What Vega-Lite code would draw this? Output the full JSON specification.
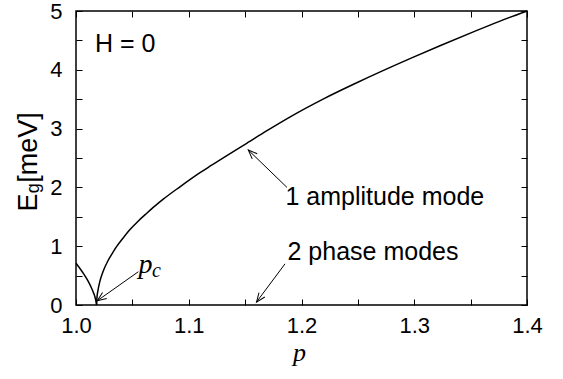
{
  "$schema": "https://vega.github.io/schema/vega-lite/v6.json",
  "width": 451,
  "height": 294,
  "autosize": {"type": "none"},
  "padding": {"left": 76, "top": 11, "right": 36, "bottom": 74},
  "background": "white",
  "config": {
    "view": {"stroke": "black", "strokeWidth": 1.5},
    "axis": {"grid": false, "domain": false, "title": null, "tickColor": "black", "tickWidth": 1, "labelColor": "black", "labelFont": "Liberation Sans", "labelFontSize": 22, "labelOverlap": false, "labelFlush": false, "labelBound": false}
  },
  "resolve": {"axis": {"x": "independent", "y": "independent"}},
  "layer": [
    {
      "data": {"values": [
        {"branch": "left", "p": 1.0, "E": 0.71},
        {"branch": "left", "p": 1.0035, "E": 0.62},
        {"branch": "left", "p": 1.0071, "E": 0.52},
        {"branch": "left", "p": 1.010, "E": 0.43},
        {"branch": "left", "p": 1.013, "E": 0.32},
        {"branch": "left", "p": 1.0155, "E": 0.21},
        {"branch": "left", "p": 1.0172, "E": 0.11},
        {"branch": "left", "p": 1.0183, "E": 0.0},
        {"branch": "right", "p": 1.0183, "E": 0.0},
        {"branch": "right", "p": 1.0186, "E": 0.13},
        {"branch": "right", "p": 1.0195, "E": 0.25},
        {"branch": "right", "p": 1.021, "E": 0.39},
        {"branch": "right", "p": 1.024, "E": 0.57},
        {"branch": "right", "p": 1.028, "E": 0.74},
        {"branch": "right", "p": 1.0307, "E": 0.83},
        {"branch": "right", "p": 1.0355, "E": 0.98},
        {"branch": "right", "p": 1.042, "E": 1.145},
        {"branch": "right", "p": 1.0473, "E": 1.27},
        {"branch": "right", "p": 1.0553, "E": 1.43},
        {"branch": "right", "p": 1.063, "E": 1.565},
        {"branch": "right", "p": 1.0704, "E": 1.69},
        {"branch": "right", "p": 1.0774, "E": 1.80},
        {"branch": "right", "p": 1.0922, "E": 2.01},
        {"branch": "right", "p": 1.11, "E": 2.25},
        {"branch": "right", "p": 1.1188, "E": 2.36},
        {"branch": "right", "p": 1.1395, "E": 2.61},
        {"branch": "right", "p": 1.1514, "E": 2.75},
        {"branch": "right", "p": 1.169, "E": 2.96},
        {"branch": "right", "p": 1.19, "E": 3.20},
        {"branch": "right", "p": 1.22, "E": 3.51},
        {"branch": "right", "p": 1.249, "E": 3.78},
        {"branch": "right", "p": 1.2962, "E": 4.19},
        {"branch": "right", "p": 1.3228, "E": 4.41},
        {"branch": "right", "p": 1.3524, "E": 4.645},
        {"branch": "right", "p": 1.375, "E": 4.82},
        {"branch": "right", "p": 1.4, "E": 5.0}
      ]},
      "mark": {"type": "line", "color": "black", "strokeWidth": 1.5, "interpolate": "monotone"},
      "encoding": {
        "x": {"field": "p", "type": "quantitative", "scale": {"domain": [1, 1.4], "nice": false, "zero": false},
          "axis": {"orient": "bottom", "values": [1, 1.05, 1.1, 1.15, 1.2, 1.25, 1.3, 1.35, 1.4], "labelExpr": "abs(round(datum.value*20)) % 2 == 0 ? format(datum.value, '.1f') : ''", "tickSize": -6, "labelPadding": 16}},
        "y": {"field": "E", "type": "quantitative", "scale": {"domain": [0, 5], "nice": false, "zero": false},
          "axis": {"orient": "left", "values": [0, 0.5, 1, 1.5, 2, 2.5, 3, 3.5, 4, 4.5, 5], "labelExpr": "round(datum.value*2) % 2 == 0 ? format(datum.value, 'd') : ''", "tickSize": -6, "labelPadding": 20}},
        "detail": {"field": "branch"}
      }
    },
    {
      "data": {"values": [
        {"p": 1.1871, "E": 2.0, "p2": 1.1528, "E2": 2.636},
        {"p": 1.0553, "E": 0.566, "p2": 1.0189, "E2": 0.073},
        {"p": 1.1854, "E": 0.70, "p2": 1.1601, "E2": 0.05}
      ]},
      "mark": {"type": "rule", "color": "black", "strokeWidth": 1},
      "encoding": {
        "x": {"field": "p", "type": "quantitative", "scale": {"domain": [1, 1.4], "nice": false, "zero": false},
          "axis": {"orient": "top", "values": [1, 1.05, 1.1, 1.15, 1.2, 1.25, 1.3, 1.35, 1.4], "labels": false, "tickSize": -6}},
        "y": {"field": "E", "type": "quantitative", "scale": {"domain": [0, 5], "nice": false, "zero": false},
          "axis": {"orient": "right", "values": [0, 0.5, 1, 1.5, 2, 2.5, 3, 3.5, 4, 4.5, 5], "labels": false, "tickSize": -6}},
        "x2": {"field": "p2"},
        "y2": {"field": "E2"}
      }
    },
    {
      "data": {"values": [{"p": 1.1528, "E": 2.636}]},
      "mark": {"type": "point", "shape": "M-1,-0.4L0,0L-1,0.4", "size": 324, "filled": false, "stroke": "black", "strokeWidth": 1, "opacity": 1, "angle": 224.2},
      "encoding": {
        "x": {"field": "p", "type": "quantitative", "scale": {"domain": [1, 1.4], "nice": false, "zero": false}, "axis": null},
        "y": {"field": "E", "type": "quantitative", "scale": {"domain": [0, 5], "nice": false, "zero": false}, "axis": null}
      }
    },
    {
      "data": {"values": [{"p": 1.0189, "E": 0.073}]},
      "mark": {"type": "point", "shape": "M-1,-0.4L0,0L-1,0.4", "size": 324, "filled": false, "stroke": "black", "strokeWidth": 1, "opacity": 1, "angle": 144.7},
      "encoding": {
        "x": {"field": "p", "type": "quantitative", "scale": {"domain": [1, 1.4], "nice": false, "zero": false}, "axis": null},
        "y": {"field": "E", "type": "quantitative", "scale": {"domain": [0, 5], "nice": false, "zero": false}, "axis": null}
      }
    },
    {
      "data": {"values": [{"p": 1.1601, "E": 0.05}]},
      "mark": {"type": "point", "shape": "M-1,-0.4L0,0L-1,0.4", "size": 324, "filled": false, "stroke": "black", "strokeWidth": 1, "opacity": 1, "angle": 126.7},
      "encoding": {
        "x": {"field": "p", "type": "quantitative", "scale": {"domain": [1, 1.4], "nice": false, "zero": false}, "axis": null},
        "y": {"field": "E", "type": "quantitative", "scale": {"domain": [0, 5], "nice": false, "zero": false}, "axis": null}
      }
    },
    {
      "data": {"values": [
        {"label": "H = 0", "p": 1.0169, "E": 4.44},
        {"label": "1 amplitude mode", "p": 1.1858, "E": 1.837},
        {"label": "2 phase modes", "p": 1.1876, "E": 0.906}
      ]},
      "mark": {"type": "text", "font": "Liberation Sans", "fontSize": 25, "align": "left", "baseline": "middle", "color": "black"},
      "encoding": {
        "x": {"field": "p", "type": "quantitative", "scale": {"domain": [1, 1.4], "nice": false, "zero": false}, "axis": null},
        "y": {"field": "E", "type": "quantitative", "scale": {"domain": [0, 5], "nice": false, "zero": false}, "axis": null},
        "text": {"field": "label"}
      }
    },
    {
      "data": {"values": [
        {"label": "E", "p": 0.9654, "E": 1.59},
        {"label": "[meV]", "p": 0.9654, "E": 2.08}
      ]},
      "mark": {"type": "text", "font": "Liberation Sans", "fontSize": 27, "align": "left", "baseline": "alphabetic", "angle": 270, "color": "black"},
      "encoding": {
        "x": {"field": "p", "type": "quantitative", "scale": {"domain": [1, 1.4], "nice": false, "zero": false}, "axis": null},
        "y": {"field": "E", "type": "quantitative", "scale": {"domain": [0, 5], "nice": false, "zero": false}, "axis": null},
        "text": {"field": "label"}
      }
    },
    {
      "data": {"values": [{"label": "g", "p": 0.9668, "E": 1.9}]},
      "mark": {"type": "text", "font": "Liberation Sans", "fontSize": 18, "align": "left", "baseline": "alphabetic", "angle": 270, "color": "black"},
      "encoding": {
        "x": {"field": "p", "type": "quantitative", "scale": {"domain": [1, 1.4], "nice": false, "zero": false}, "axis": null},
        "y": {"field": "E", "type": "quantitative", "scale": {"domain": [0, 5], "nice": false, "zero": false}, "axis": null},
        "text": {"field": "label"}
      }
    },
    {
      "data": {"values": [
        {"label": "p", "p": 1.1982, "E": -0.95}
      ]},
      "mark": {"type": "text", "font": "Liberation Serif", "fontStyle": "italic", "fontSize": 26, "align": "center", "baseline": "alphabetic", "color": "black"},
      "encoding": {
        "x": {"field": "p", "type": "quantitative", "scale": {"domain": [1, 1.4], "nice": false, "zero": false}, "axis": null},
        "y": {"field": "E", "type": "quantitative", "scale": {"domain": [0, 5], "nice": false, "zero": false}, "axis": null},
        "text": {"field": "label"}
      }
    },
    {
      "data": {"values": [
        {"label": "p", "p": 1.0616, "E": 0.549}
      ]},
      "mark": {"type": "text", "font": "Liberation Serif", "fontStyle": "italic", "fontSize": 28, "align": "center", "baseline": "alphabetic", "color": "black"},
      "encoding": {
        "x": {"field": "p", "type": "quantitative", "scale": {"domain": [1, 1.4], "nice": false, "zero": false}, "axis": null},
        "y": {"field": "E", "type": "quantitative", "scale": {"domain": [0, 5], "nice": false, "zero": false}, "axis": null},
        "text": {"field": "label"}
      }
    },
    {
      "data": {"values": [{"label": "c", "p": 1.0674, "E": 0.481}]},
      "mark": {"type": "text", "font": "Liberation Serif", "fontStyle": "italic", "fontSize": 20, "align": "left", "baseline": "alphabetic", "color": "black"},
      "encoding": {
        "x": {"field": "p", "type": "quantitative", "scale": {"domain": [1, 1.4], "nice": false, "zero": false}, "axis": null},
        "y": {"field": "E", "type": "quantitative", "scale": {"domain": [0, 5], "nice": false, "zero": false}, "axis": null},
        "text": {"field": "label"}
      }
    }
  ]
}
